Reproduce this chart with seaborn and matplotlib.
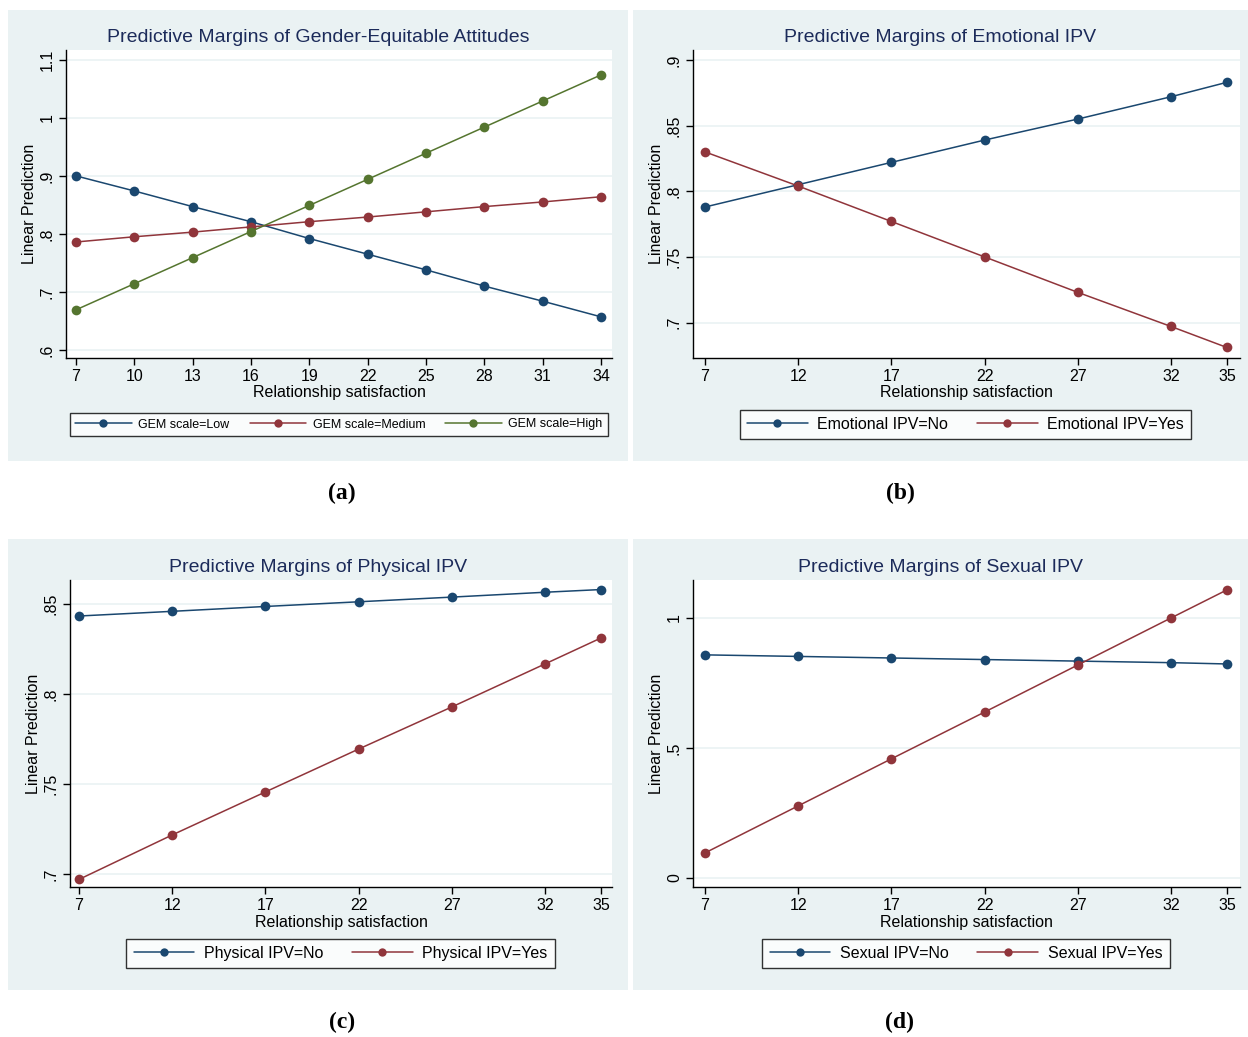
import pandas as pd
import numpy as np
import matplotlib.pyplot as plt
from matplotlib.lines import Line2D
from matplotlib.patches import Rectangle
import seaborn as sns

sns.set_style("white")
plt.rcParams['font.family'] = ['Liberation Sans', 'DejaVu Sans']
plt.rcParams['text.color'] = 'black'
plt.rcParams['axes.labelcolor'] = 'black'
plt.rcParams['xtick.color'] = 'black'
plt.rcParams['ytick.color'] = 'black'

# data
gem_x = [7, 10, 13, 16, 19, 22, 25, 28, 31, 34]
gem_low = [.900, .874, .847, .821, .792, .765, .738, .710, .684, .657]
gem_med = [.786, .795, .803, .812, .821, .829, .838, .847, .855, .864]
gem_high = [.669, .714, .759, .804, .849, .894, .939, .984, 1.029, 1.074]

ipv_x = [7, 12, 17, 22, 27, 32, 35]
emo_no = [.788, .805, .822, .839, .855, .872, .883]
emo_yes = [.830, .804, .777, .750, .723, .697, .681]
phy_no = [.8433, .8459, .8486, .8512, .8538, .8565, .8580]
phy_yes = [.697, .7217, .7456, .7694, .7928, .8167, .8311]
sex_no = [.858, .852, .846, .840, .834, .828, .823]
sex_yes = [.096, .277, .458, .638, .819, 1.000, 1.108]

navy = '#1a476f'
maroon = '#90353b'
green = '#55752f'
bg = '#eaf2f3'

W, H = 1248, 1037
fig = plt.figure(figsize=(W / 100, H / 100), dpi=100)
fig.patch.set_facecolor('white')


def long_df(x, series):
    rows = []
    for name, vals in series.items():
        for xv, yv in zip(x, vals):
            rows.append({'sat': xv, 'pred': yv, 'group': name})
    return pd.DataFrame(rows)


def panel(box, plot, title, x, series, colors, xticks, xlim, yticks, ylabels, ylim,
          leg_center, leg_opts, label, label_pos):
    # light background of the whole graph
    fig.patches.append(Rectangle((box[0] / W, 1 - box[3] / H), (box[2] - box[0]) / W,
                                 (box[3] - box[1]) / H, transform=fig.transFigure,
                                 facecolor=bg, edgecolor='none', zorder=-5))
    l, t, r, b = plot
    ax = fig.add_axes([l / W, 1 - b / H, (r - l) / W, (b - t) / H])
    ax.set_facecolor('white')
    df = long_df(x, series)
    names = list(series.keys())
    sns.lineplot(data=df, x='sat', y='pred', hue='group', hue_order=names,
                 palette=dict(zip(names, colors)), marker='o', markersize=7,
                 markeredgewidth=0, linewidth=1.1, legend=False, ax=ax)
    ax.set_xlim(*xlim)
    ax.set_ylim(*ylim)
    ax.set_xticks(xticks)
    ax.set_xticklabels([str(v) for v in xticks], fontsize=11.5)
    ax.set_yticks(yticks)
    ax.set_yticklabels(ylabels, fontsize=11.5, rotation=90, va='center')
    for y in yticks:
        ax.axhline(y, color=bg, lw=1.2, zorder=0)
    for s in ['top', 'right']:
        ax.spines[s].set_visible(False)
    for s in ['left', 'bottom']:
        ax.spines[s].set_color('black')
        ax.spines[s].set_linewidth(1)
    ax.tick_params(axis='both', direction='out', length=5, width=1, color='black',
                   pad=3, left=True, bottom=True)
    ax.set_xlabel('Relationship satisfaction', fontsize=11.5, labelpad=1)
    ax.set_ylabel('Linear Prediction', fontsize=11.5, labelpad=2)
    fig.text((box[0] + box[2]) / 2 / W, 1 - (t - 13) / H, title, ha='center', va='center',
             fontsize=14, color='#1c2b5a')
    handles = [Line2D([], [], color=c, marker='o', markersize=6, markeredgewidth=0, lw=1.1)
               for c in colors]
    leg = ax.legend(handles, names, loc='center', ncol=len(names),
                    bbox_to_anchor=(leg_center[0] / W, 1 - leg_center[1] / H),
                    bbox_transform=fig.transFigure, frameon=True,
                    fancybox=False, edgecolor='black', borderpad=0.45, **leg_opts)
    leg.get_frame().set_linewidth(1)
    fig.text(label_pos[0] / W, 1 - label_pos[1] / H, label, ha='center', va='center',
             fontsize=17, fontweight='bold', family='Liberation Serif', color='black')
    return ax


small_leg = dict(fontsize=9, handlelength=4.5, handletextpad=0.55, columnspacing=1.6)
big_leg = dict(fontsize=11.5, handlelength=3.8, handletextpad=0.6, columnspacing=1.8)

panel((8, 10, 628, 461), (66, 50, 612, 358), 'Predictive Margins of Gender-Equitable Attitudes',
      gem_x, {'GEM scale=Low': gem_low, 'GEM scale=Medium': gem_med, 'GEM scale=High': gem_high},
      [navy, maroon, green], gem_x, (6.49, 34.57),
      [.6, .7, .8, .9, 1.0, 1.1], ['.6', '.7', '.8', '.9', '1', '1.1'], (.586, 1.117),
      (339, 424.5), small_leg, '(a)', (342, 493))

panel((633, 10, 1248, 461), (693, 50, 1240, 358), 'Predictive Margins of Emotional IPV',
      ipv_x, {'Emotional IPV=No': emo_no, 'Emotional IPV=Yes': emo_yes},
      [navy, maroon], ipv_x, (6.36, 35.7),
      [.7, .75, .8, .85, .9], ['.7', '.75', '.8', '.85', '.9'], (.673, .9076),
      (965.5, 424.5), big_leg, '(b)', (900, 493))

panel((8, 539, 628, 990), (70, 580, 612, 887), 'Predictive Margins of Physical IPV',
      ipv_x, {'Physical IPV=No': phy_no, 'Physical IPV=Yes': phy_yes},
      [navy, maroon], ipv_x, (6.52, 35.59),
      [.7, .75, .8, .85], ['.7', '.75', '.8', '.85'], (.6928, .8633),
      (340.5, 953.5), big_leg, '(c)', (342, 1022))

panel((633, 539, 1248, 990), (693, 580, 1240, 887), 'Predictive Margins of Sexual IPV',
      ipv_x, {'Sexual IPV=No': sex_no, 'Sexual IPV=Yes': sex_yes},
      [navy, maroon], ipv_x, (6.36, 35.7),
      [0, .5, 1], ['0', '.5', '1'], (-.035, 1.146),
      (966, 953.5), big_leg, '(d)', (900, 1022))

fig.savefig('out.png', dpi=100, facecolor='white')
